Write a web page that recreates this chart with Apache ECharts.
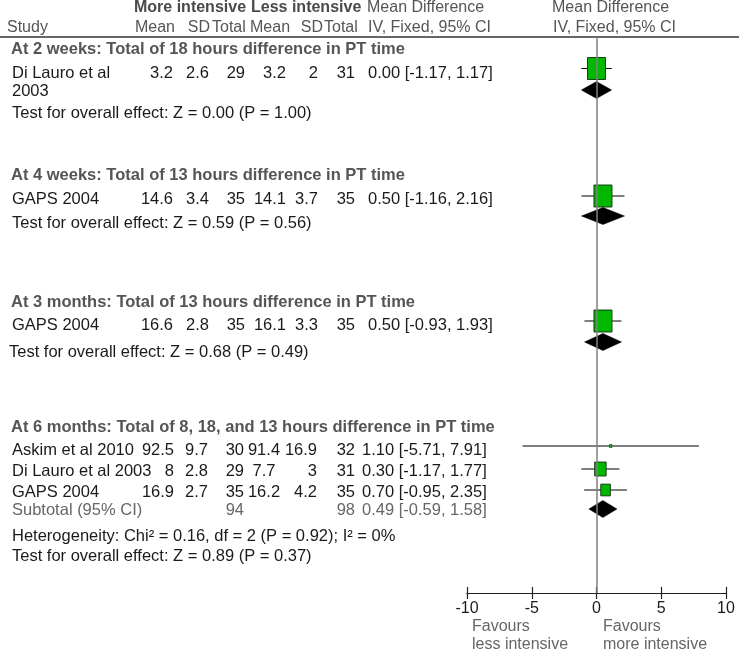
<!DOCTYPE html>
<html>
<head>
<meta charset="utf-8">
<script src="https://cdn.jsdelivr.net/npm/echarts@6/dist/echarts.min.js"></script>
<style>
  html, body { margin: 0; padding: 0; background: #fff; }
  #chart { width: 739px; height: 652px; }
</style>
</head>
<body>
<div id="chart"></div>
<script>
// study data, one entry per study row (top to bottom)
const studyNames = ['Di Lauro et al\n2003', 'GAPS 2004', 'GAPS 2004', 'Askim et al 2010', 'Di Lauro et al 2003', 'GAPS 2004'];
const moreMean = ['3.2', '14.6', '16.6', '92.5', '8', '16.9'];
const moreSD = ['2.6', '3.4', '2.8', '9.7', '2.8', '2.7'];
const moreN = [29, 35, 35, 30, 29, 35];
const lessMean = ['3.2', '14.1', '16.1', '91.4', '7.7', '16.2'];
const lessSD = ['2', '3.7', '3.3', '16.9', '3', '4.2'];
const lessN = [31, 35, 35, 32, 31, 35];
const meanDiff = [0.00, 0.50, 0.50, 1.10, 0.30, 0.70];
const ciLow = [-1.17, -1.16, -0.93, -5.71, -1.17, -0.95];
const ciHigh = [1.17, 2.16, 1.93, 7.91, 1.77, 2.35];
const weights = [100, 100, 100, 2.5, 54.5, 43.0];

// pooled results per subgroup
const groupTitles = [
  'At 2 weeks: Total of 18 hours difference in PT time',
  'At 4 weeks: Total of 13 hours difference in PT time',
  'At 3 months: Total of 13 hours difference in PT time',
  'At 6 months: Total of 8, 18, and 13 hours difference in PT time'
];
const pooledMD = [0.00, 0.50, 0.50, 0.49];
const pooledLow = [-1.17, -1.16, -0.93, -0.59];
const pooledHigh = [1.17, 2.16, 1.93, 1.58];
const overallTests = [
  'Test for overall effect: Z = 0.00 (P = 1.00)',
  'Test for overall effect: Z = 0.59 (P = 0.56)',
  'Test for overall effect: Z = 0.68 (P = 0.49)',
  'Test for overall effect: Z = 0.89 (P = 0.37)'
];
const subtotalN = [94, 98];
const heterogeneity = 'Heterogeneity: Chi\u00b2 = 0.16, df = 2 (P = 0.92); I\u00b2 = 0%';
const xTicks = [-10, -5, 0, 5, 10];

// layout (vertical positions, in px below the header rule)
const studyRow = [31.5, 159, 284, 409, 432, 453];
const diamondRow = [53, 179, 305, 472];
const studyTextY = [73, 199, 325, 450, 471, 492];
const titleY = [49, 175, 302, 427];
const testY = [113, 223, 352, 556];

const FONT = '"Liberation Sans", Arial, sans-serif';
const BLACK = '#1a1a1a';
const GREY = '#555';
const BODY = 16.5;

function txt(s, x, y, opts) {
  opts = opts || {};
  return {
    type: 'text', x: x, y: y, silent: true,
    style: {
      text: s,
      fill: opts.fill || BLACK,
      font: (opts.bold ? 'bold ' : '') + (opts.size || BODY) + 'px ' + FONT,
      textAlign: opts.align || 'left',
      textVerticalAlign: 'middle'
    }
  };
}

let texts = [];
// header
const hd = {fill: GREY, size: 16};
const hdR = {fill: GREY, size: 16, align: 'right'};
texts.push(txt('More intensive', 134, 8, {bold: true, fill: '#4a4a4a', size: 16}));
texts.push(txt('Less intensive', 251, 8, {bold: true, fill: '#4a4a4a', size: 16}));
texts.push(txt('Mean Difference', 367, 8, hd));
texts.push(txt('Mean Difference', 552, 8, hd));
texts.push(txt('Study', 7, 28, hd));
texts.push(txt('Mean', 175, 28, hdR));
texts.push(txt('SD', 210, 28, hdR));
texts.push(txt('Total', 212, 28, hd));
texts.push(txt('Mean', 250, 28, hd));
texts.push(txt('SD', 323, 28, hdR));
texts.push(txt('Total', 324, 28, hd));
texts.push(txt('IV, Fixed, 95% CI', 368, 28, hd));
texts.push(txt('IV, Fixed, 95% CI', 553, 28, hd));

groupTitles.forEach((t, i) => {
  texts.push(txt(t, 11, titleY[i], {bold: true, fill: GREY}));
  texts.push(txt(overallTests[i], i === 2 ? 9 : 12, testY[i]));
});

studyNames.forEach((name, i) => {
  const y = studyTextY[i];
  const r = {align: 'right'};
  if (i === 0) {
    texts.push(txt('Di Lauro et al', 12, y));
    texts.push(txt('2003', 12, y + 18));
  } else {
    texts.push(txt(name, 12, y));
  }
  if (i < 3) {
    texts.push(txt(moreMean[i], 173, y, r));
    texts.push(txt(moreSD[i], 209, y, r));
    texts.push(txt(String(moreN[i]), 245, y, r));
    texts.push(txt(lessMean[i], 286, y, r));
    texts.push(txt(lessSD[i], 318, y, r));
    texts.push(txt(String(lessN[i]), 355, y, r));
    texts.push(txt(meanDiff[i].toFixed(2) + ' [' + ciLow[i].toFixed(2) + ', ' + ciHigh[i].toFixed(2) + ']', 368, y));
  } else {
    texts.push(txt(moreMean[i], 174, y, r));
    texts.push(txt(moreSD[i], 208, y, r));
    texts.push(txt(String(moreN[i]), 244, y, r));
    texts.push(txt(lessMean[i], 264, y, {align: 'center'}));
    texts.push(txt(lessSD[i], 317, y, r));
    texts.push(txt(String(lessN[i]), 355, y, r));
    texts.push(txt(meanDiff[i].toFixed(2) + ' [' + ciLow[i].toFixed(2) + ', ' + ciHigh[i].toFixed(2) + ']', 362, y));
  }
});

// subtotal row of last subgroup
const sub = {fill: '#666'};
texts.push(txt('Subtotal (95% CI)', 12, 510, sub));
texts.push(txt(String(subtotalN[0]), 244, 510, {fill: '#666', align: 'right'}));
texts.push(txt(String(subtotalN[1]), 355, 510, {fill: '#666', align: 'right'}));
texts.push(txt(pooledMD[3].toFixed(2) + ' [' + pooledLow[3].toFixed(2) + ', ' + pooledHigh[3].toFixed(2) + ']', 362, 510, sub));
texts.push(txt(heterogeneity, 12, 536));

// favours labels
texts.push(txt('Favours', 472, 627, {fill: '#666', size: 16}));
texts.push(txt('less intensive', 472, 645, {fill: '#666', size: 16}));
texts.push(txt('Favours', 603, 627, {fill: '#666', size: 16}));
texts.push(txt('more intensive', 603, 645, {fill: '#666', size: 16}));

// header rule
texts.push({
  type: 'line', silent: true,
  shape: {x1: 0, y1: 37, x2: 739, y2: 37},
  style: {stroke: '#333', lineWidth: 1.5}
});

const studyData = meanDiff.map((m, i) => [m, studyRow[i], ciLow[i], ciHigh[i], weights[i]]);
const pooledData = pooledMD.map((m, i) => [m, diamondRow[i], pooledLow[i], pooledHigh[i]]);

function renderStudy(params, api) {
  const y = api.value(1);
  const c = api.coord([api.value(0), y]);
  const lo = api.coord([api.value(2), y]);
  const hi = api.coord([api.value(3), y]);
  const w = Math.max(2.5, 18 * Math.pow(api.value(4) / 100, 0.75));
  const h = w * 1.22;
  return {
    type: 'group',
    children: [
      {type: 'line', shape: {x1: lo[0], y1: c[1], x2: hi[0], y2: c[1]}, style: {stroke: '#000', lineWidth: 1}},
      {type: 'rect', shape: {x: c[0] - w / 2, y: c[1] - h / 2, width: w, height: h},
        style: {fill: '#00b800', stroke: '#173d17', lineWidth: w > 4 ? 1 : 0.6}}
    ]
  };
}

function renderDiamond(params, api) {
  const y = api.value(1);
  const c = api.coord([api.value(0), y]);
  const lo = api.coord([api.value(2), y]);
  const hi = api.coord([api.value(3), y]);
  const hh = 8.5;
  return {
    type: 'polygon',
    shape: {points: [[lo[0], c[1]], [c[0], c[1] - hh], [hi[0], c[1]], [c[0], c[1] + hh]]},
    style: {fill: '#000', stroke: '#000', lineWidth: 0.5}
  };
}

const chart = echarts.init(document.getElementById('chart'), null, {renderer: 'canvas'});

const baseAxis = {
  type: 'value',
  min: xTicks[0],
  max: xTicks[xTicks.length - 1],
  interval: 5,
  position: 'bottom',
  splitLine: {show: false},
  axisLine: {show: true, onZero: false, lineStyle: {color: '#222', width: 1.2}}
};

chart.setOption({
  animation: false,
  grid: {left: 467, right: 13, top: 37, bottom: 59, containLabel: false},
  xAxis: [
    Object.assign({}, baseAxis, {
      axisTick: {show: true, length: 6, lineStyle: {color: '#222', width: 1.2}},
      axisLabel: {show: true, margin: 8, fontSize: 16, fontFamily: FONT, color: BLACK}
    }),
    Object.assign({}, baseAxis, {
      axisTick: {show: true, inside: true, length: 6, lineStyle: {color: '#222', width: 1.2}},
      axisLabel: {show: false}
    })
  ],
  yAxis: {
    type: 'value', inverse: true, min: 0, max: 556,
    show: false
  },
  graphic: texts,
  series: [
    {
      type: 'custom',
      name: 'studies',
      renderItem: renderStudy,
      data: studyData,
      encode: {x: [0, 2, 3], y: 1},
      z: 3,
      markLine: {
        silent: true,
        symbol: 'none',
        label: {show: false},
        lineStyle: {color: '#808080', width: 1.5, type: 'solid'},
        data: [{xAxis: 0}]
      }
    },
    {
      type: 'custom',
      name: 'pooled',
      renderItem: renderDiamond,
      data: pooledData,
      encode: {x: [0, 2, 3], y: 1},
      z: 4
    }
  ]
});
</script>
</body>
</html>
